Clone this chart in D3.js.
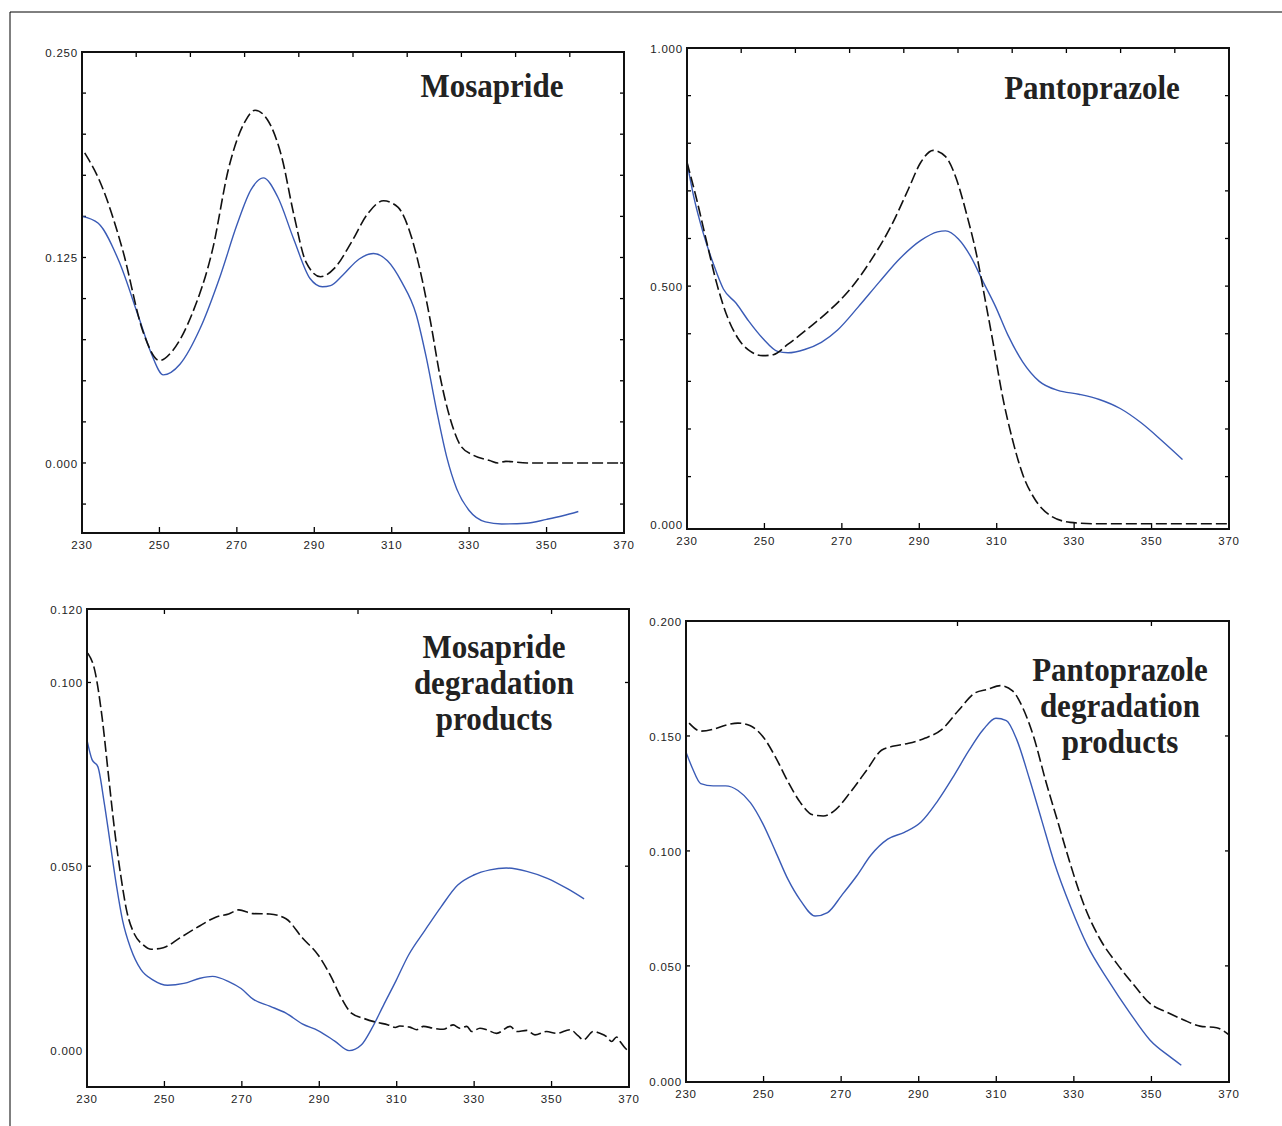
<!DOCTYPE html>
<html>
<head>
<meta charset="utf-8">
<script src="https://cdn.jsdelivr.net/npm/d3@7"></script>
<style>
  body { margin: 0; background: #fff; }
  svg { display: block; }
</style>
</head>
<body>
<script>
// wavelength ticks shared by every panel
const xLabels = [230, 250, 270, 290, 310, 330, 350, 370];

// Mosapride: [wavelength, absorbance]
const mosaDash = [[230.7,0.1886],[234.7,0.1708],[240.5,0.1296],[245.8,0.0796],[250,0.0623],[253.2,0.0677],[258.4,0.0905],[263.7,0.1296],[267.9,0.1795],[272.1,0.2077],[274.7,0.2146],[277.9,0.2088],[281.6,0.186],[284.7,0.1513],[287.9,0.122],[291.6,0.1133],[295.3,0.1187],[299.5,0.1339],[303.7,0.1513],[307.9,0.1595],[311.6,0.1556],[314.7,0.1404],[317.4,0.1165],[320,0.0862],[322.6,0.0514],[325.3,0.0254],[327.9,0.0102],[331,0.0048],[335.3,0.0015],[337.4,0],[339.5,0.001],[345,0],[370,0]];
const mosaBlue = [[230,0.150],[234.2,0.1458],[239.5,0.123],[244.7,0.0883],[247.9,0.0666],[251,0.0536],[255.3,0.0601],[260.5,0.0818],[265.8,0.1144],[270,0.1447],[273.7,0.1664],[276.8,0.1734],[280.5,0.1621],[284.7,0.1361],[288.9,0.1122],[292.1,0.1072],[294.2,0.1079],[297.4,0.1144],[301.6,0.1241],[305.3,0.1274],[308.9,0.123],[312.6,0.11],[316.3,0.0905],[318.9,0.0645],[321.6,0.0319],[324.2,0.0037],[326.8,-0.0158],[330,-0.0289],[334.2,-0.0358],[338.4,-0.0371],[344.7,-0.0367],[350,-0.0343],[354.2,-0.0321],[358.2,-0.0295]];

// Pantoprazole
const pantoDash = [[230,0.760],[232.5,0.682],[235.1,0.592],[237.8,0.502],[240.5,0.434],[243.2,0.390],[246.4,0.363],[249.6,0.354],[252.3,0.356],[256.1,0.378],[261.4,0.412],[266.8,0.449],[272.2,0.494],[277.5,0.554],[282.9,0.629],[287.2,0.704],[290.4,0.760],[293.6,0.785],[296.8,0.772],[299.5,0.727],[302.2,0.652],[304.9,0.562],[307,0.472],[309.2,0.375],[311.3,0.277],[314,0.180],[316.7,0.105],[319.9,0.052],[323.7,0.019],[329,0.004],[335.5,0.001],[370,0.001]];
const pantoBlue = [[230,0.760],[231.9,0.682],[234.1,0.614],[236.8,0.547],[239.4,0.494],[242.7,0.464],[245.9,0.427],[249.6,0.390],[253.4,0.363],[256.1,0.360],[260.4,0.367],[264.7,0.382],[268.9,0.408],[274.3,0.457],[279.7,0.509],[285,0.558],[290.4,0.596],[294.7,0.614],[296.8,0.616],[300.1,0.599],[303.3,0.562],[306.5,0.509],[309.7,0.457],[312.9,0.397],[316.7,0.341],[321,0.300],[325.8,0.281],[331.2,0.273],[336.5,0.262],[341.9,0.243],[347.3,0.213],[352.6,0.176],[358,0.136]];

// Mosapride degradation products
const mosaDegDash = [[230.2,0.108],[232,0.1033],[233.9,0.0905],[235.5,0.0752],[237.1,0.060],[238.7,0.0476],[240.2,0.0381],[242.3,0.0314],[244.5,0.0286],[246.6,0.0274],[249.7,0.0278],[254,0.0305],[259.2,0.0338],[263.4,0.0362],[266.6,0.0370],[269.2,0.0381],[272.9,0.0371],[277.2,0.0370],[281.4,0.0357],[285.6,0.0305],[289.8,0.0257],[293,0.020],[295.6,0.0143],[298.3,0.010],[301.4,0.0086],[304.8,0.0075],[307.8,0.0068],[309.6,0.0061],[310.8,0.0065],[313.4,0.0062],[315.2,0.0055],[316.9,0.0064],[319.4,0.0059],[322,0.0056],[324.6,0.0068],[326.3,0.0059],[328.1,0.0064],[329.4,0.005],[331.5,0.0059],[333.2,0.0055],[335.8,0.0045],[339.3,0.0064],[341,0.005],[343.6,0.0053],[345.7,0.0041],[348.7,0.005],[351.3,0.0045],[354.8,0.0055],[356.9,0.0038],[358.2,0.0027],[360.8,0.005],[362.5,0.0045],[364.2,0.0036],[365.5,0.0023],[366.8,0.0035],[367.7,0.0023],[369,0.0005],[370,-0.0005]];
const mosaDegBlue = [[230,0.0843],[231.3,0.079],[232.8,0.0771],[234.4,0.0676],[236,0.0562],[237.6,0.0448],[239.2,0.0352],[241.3,0.0276],[243.9,0.0219],[247.1,0.019],[250.8,0.0176],[255,0.0181],[259.2,0.0195],[262.4,0.020],[266.6,0.0186],[269.8,0.0167],[272.9,0.0138],[277.2,0.0119],[281.4,0.010],[285.6,0.0071],[289.8,0.0052],[294,0.0024],[297.7,-0.0002],[300.9,0.0014],[303.5,0.0057],[306.7,0.0124],[309.9,0.019],[313,0.0257],[317.2,0.0324],[321.5,0.039],[325.7,0.0448],[329.9,0.0476],[334.1,0.049],[338.3,0.0495],[343.6,0.0486],[348.9,0.0467],[354.2,0.0438],[358.4,0.0411]];

// Pantoprazole degradation products
const pantoDegDash = [[230.8,0.1556],[233.8,0.1521],[237,0.1529],[240.2,0.1547],[243.4,0.1556],[246.6,0.1544],[249.8,0.1498],[253.1,0.1407],[256.3,0.1301],[259.5,0.121],[262.7,0.1157],[265.4,0.1152],[268.6,0.118],[272.4,0.1256],[276.7,0.1354],[280.4,0.1438],[283.6,0.1456],[287.4,0.1468],[291.7,0.1491],[296,0.1529],[300.3,0.1612],[304.6,0.1688],[307.8,0.1703],[311,0.1719],[314.2,0.1696],[316.9,0.162],[319.6,0.1498],[322.8,0.1301],[326,0.1119],[329.2,0.0937],[332.5,0.077],[336.7,0.0618],[341,0.0512],[345.3,0.0421],[349.6,0.0337],[353.9,0.0299],[358.2,0.0266],[362.5,0.0238],[366.8,0.0231],[370,0.020]];
const pantoDegBlue = [[230,0.143],[231.6,0.1362],[233.8,0.1293],[237,0.1283],[240.2,0.1283],[243.4,0.1263],[246.6,0.121],[249.8,0.1119],[253.1,0.0997],[256.3,0.0876],[259.5,0.0785],[263.3,0.0717],[266.5,0.0732],[270.2,0.0808],[274,0.0891],[277.7,0.0982],[282,0.1051],[286.3,0.1081],[290.6,0.1126],[294.9,0.1218],[299.2,0.1331],[303,0.1438],[306.7,0.1529],[309.9,0.1577],[312.6,0.1567],[315.3,0.1483],[318.5,0.1316],[321.7,0.1134],[324.9,0.0952],[329.2,0.0755],[333.5,0.0588],[338.9,0.0436],[344.3,0.0299],[349.6,0.0178],[355,0.0102],[357.7,0.0068]];

// y tick labels and minor ticks
const mosaYLabels = [0, 0.125, 0.25];
const mosaYTicks = [-0.025, 0, 0.025, 0.05, 0.075, 0.1, 0.125, 0.15, 0.175, 0.2, 0.225];
const pantoYLabels = [0, 0.5, 1.0];
const pantoYTicks = [0.1, 0.2, 0.3, 0.4, 0.5, 0.6, 0.7, 0.8, 0.9];
const mosaDegYLabels = [0, 0.05, 0.1, 0.12];
const mosaDegYTicks = [0.05, 0.1];
const pantoDegYLabels = [0, 0.05, 0.1, 0.15, 0.2];
const pantoDegYTicks = [0.05, 0.1, 0.15];
const topTicks14 = [244, 258, 272, 286, 300, 314, 328, 342, 356];
const topTicks50 = [250, 300, 350];
const topTicksPD = [300, 350];

const W = 1282, H = 1126;
const svg = d3.select('body').append('svg')
  .attr('width', W)
  .attr('height', H);

// outer frame (top + left edge only)
svg.append('line').attr('x1', 10).attr('y1', 12).attr('x2', W).attr('y2', 12)
  .attr('stroke', '#000').attr('stroke-width', 1);
svg.append('line').attr('x1', 10).attr('y1', 12).attr('x2', 10).attr('y2', H)
  .attr('stroke', '#000').attr('stroke-width', 1);

function drawPanel(p) {
  const x = d3.scaleLinear().domain([230, 370]).range([p.left, p.right]);
  const y = d3.scaleLinear().domain(p.yDomain).range([p.bottom, p.top]);
  const g = svg.append('g');

  // inner ticks
  const tick = (x1, y1, x2, y2) => g.append('line')
    .attr('x1', x1).attr('y1', y1).attr('x2', x2).attr('y2', y2)
    .attr('stroke', '#000').attr('stroke-width', 1.3);
  xLabels.slice(1, -1).forEach(v => tick(x(v), p.bottom, x(v), p.bottom - 6));
  p.topTicks.forEach(v => tick(x(v), p.top, x(v), p.top + 5));
  p.yTicks.forEach(v => {
    tick(p.left, y(v), p.left + 4, y(v));
    tick(p.right, y(v), p.right - 4, y(v));
  });

  // tick labels
  g.selectAll('.xl').data(xLabels).enter().append('text')
    .attr('x', d => x(d))
    .attr('y', p.bottom + 16)
    .attr('text-anchor', 'middle')
    .attr('font-family', 'Liberation Sans, Arial, sans-serif')
    .attr('font-size', 11.5)
    .attr('letter-spacing', 0.8)
    .attr('fill', '#222')
    .text(d => d);
  g.selectAll('.yl').data(p.yLabels).enter().append('text')
    .attr('x', p.left - 4)
    .attr('y', d => y(d) + 5)
    .attr('text-anchor', 'end')
    .attr('font-family', 'Liberation Sans, Arial, sans-serif')
    .attr('font-size', 11.5)
    .attr('letter-spacing', 0.8)
    .attr('fill', '#222')
    .text(d => d3.format('.3f')(d));

  const line = d3.line()
    .x(d => x(d[0]))
    .y(d => y(d[1]))
    .curve(d3.curveMonotoneX);

  g.append('path').datum(p.blue)
    .attr('d', line)
    .attr('fill', 'none')
    .attr('stroke', '#3a5bb6')
    .attr('stroke-width', 1.4);
  g.append('path').datum(p.dash)
    .attr('d', line)
    .attr('fill', 'none')
    .attr('stroke', '#111')
    .attr('stroke-width', 1.6)
    .attr('stroke-dasharray', '11,4');

  // plot box
  g.append('rect')
    .attr('x', p.left).attr('y', p.top)
    .attr('width', p.right - p.left).attr('height', p.bottom - p.top)
    .attr('fill', 'none').attr('stroke', '#111').attr('stroke-width', 2);

  // title, a bit condensed like the original
  const t = g.append('text')
    .attr('transform', `translate(${p.titleX},0) scale(0.94,1)`)
    .attr('text-anchor', 'middle')
    .attr('font-family', 'Liberation Serif, Times New Roman, serif')
    .attr('font-weight', 'bold')
    .attr('font-size', 33)
    .attr('fill', '#222');
  p.title.forEach((s, i) => {
    t.append('tspan').attr('x', 0).attr('y', p.titleY + i * 36).text(s);
  });
}

drawPanel({ left: 82, right: 624, top: 52, bottom: 533, yDomain: [-0.0426, 0.25],
  yLabels: mosaYLabels, yTicks: mosaYTicks, topTicks: topTicks14,
  dash: mosaDash, blue: mosaBlue, title: ['Mosapride'], titleX: 492, titleY: 97 });

drawPanel({ left: 687, right: 1229, top: 48, bottom: 529, yDomain: [-0.01, 1.0],
  yLabels: pantoYLabels, yTicks: pantoYTicks, topTicks: topTicks14,
  dash: pantoDash, blue: pantoBlue, title: ['Pantoprazole'], titleX: 1092, titleY: 99 });

drawPanel({ left: 87, right: 629, top: 609, bottom: 1087, yDomain: [-0.0101, 0.12],
  yLabels: mosaDegYLabels, yTicks: mosaDegYTicks, topTicks: topTicks50,
  dash: mosaDegDash, blue: mosaDegBlue,
  title: ['Mosapride', 'degradation', 'products'], titleX: 494, titleY: 658 });

drawPanel({ left: 686, right: 1229, top: 621, bottom: 1082, yDomain: [-0.0005, 0.2],
  yLabels: pantoDegYLabels, yTicks: pantoDegYTicks, topTicks: topTicksPD,
  dash: pantoDegDash, blue: pantoDegBlue,
  title: ['Pantoprazole', 'degradation', 'products'], titleX: 1120, titleY: 681 });
</script>
</body>
</html>
